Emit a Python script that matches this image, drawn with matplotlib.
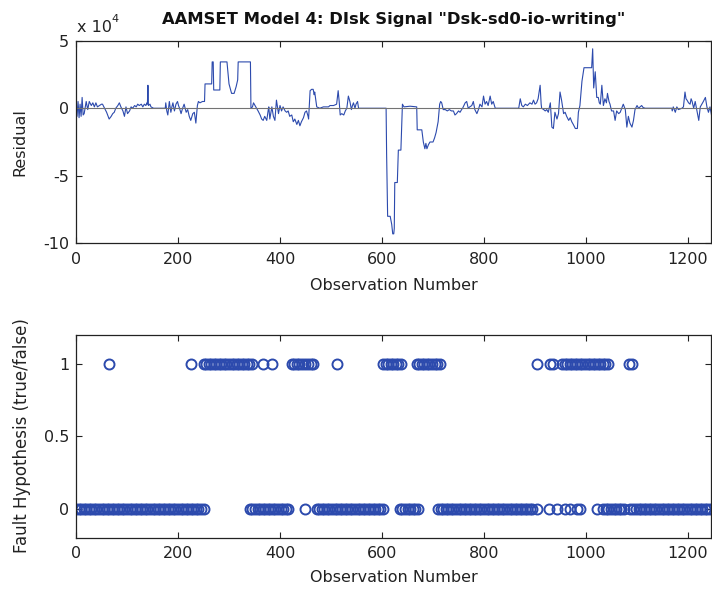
import numpy as np
import matplotlib
matplotlib.use("Agg")
import matplotlib.pyplot as plt
from matplotlib.ticker import FuncFormatter

plt.rcParams['font.family'] = ['DejaVu Sans']
plt.rcParams['axes.unicode_minus'] = False

# Residual (x 10^4), vertices
obs = [0, 2, 4, 6, 8, 10, 12, 14, 16, 20, 23, 26, 30, 33, 36, 39, 42, 46, 50, 52,
       56, 60, 62, 65, 69, 72, 75, 78, 82, 85, 88, 92, 95, 98, 101, 105, 108, 111, 115, 118,
       121, 124, 128, 131, 134, 137, 139, 140, 141, 142, 145, 147, 152, 175, 176, 178, 180, 183, 186, 188,
       190, 193, 196, 199, 201, 203, 206, 209, 212, 216, 219, 222, 225, 229, 232, 235, 238, 240, 243, 248,
       252, 253, 260, 262, 266, 267, 269, 270, 282, 283, 296, 300, 305, 310, 314, 317, 318, 342, 343, 346,
       348, 351, 354, 357, 361, 364, 367, 370, 374, 377, 378, 380, 384, 387, 390, 393, 397, 400, 403, 406,
       410, 413, 416, 419, 423, 426, 429, 433, 436, 439, 442, 446, 449, 452, 455, 456, 459, 462, 465, 467,
       468, 472, 478, 485, 495, 498, 505, 511, 514, 516, 518, 521, 525, 528, 531, 534, 537, 540, 542, 544,
       547, 549, 552, 554, 608, 609, 611, 616, 619, 621, 623, 624, 625, 630, 632, 637, 640, 643, 655, 668,
       669, 678, 681, 684, 686, 688, 691, 694, 700, 703, 706, 710, 713, 715, 717, 720, 724, 728, 732, 736,
       740, 743, 746, 750, 753, 756, 758, 763, 766, 769, 772, 776, 779, 782, 786, 789, 792, 796, 799, 802,
       805, 808, 812, 815, 818, 822, 868, 871, 874, 877, 881, 885, 890, 894, 897, 900, 903, 906, 910, 912,
       913, 917, 920, 923, 926, 930, 933, 936, 939, 943, 946, 949, 952, 954, 956, 959, 962, 966, 969, 972,
       975, 979, 983, 985, 988, 992, 996, 1011, 1013, 1015, 1018, 1021, 1024, 1026, 1028, 1031, 1034, 1037, 1040, 1042,
       1045, 1047, 1050, 1054, 1057, 1060, 1064, 1067, 1070, 1073, 1077, 1080, 1083, 1086, 1090, 1093, 1096, 1100, 1103, 1106,
       1109, 1112, 1116, 1168, 1169, 1171, 1175, 1178, 1181, 1188, 1191, 1194, 1196, 1198, 1201, 1204, 1206, 1208, 1211, 1214,
       1217, 1219, 1221, 1224, 1227, 1230, 1234, 1237, 1240, 1243, 1246]
resid = [0.0, -0.6, 0.5, -0.7, 0.3, -0.6, 0.8, -0.5, -0.4, 0.5, -0.1, 0.5, 0.2, 0.4, 0.1, 0.4, 0.1, 0.2, 0.3, 0.3,
         0.0, -0.3, -0.5, -0.8, -0.6, -0.4, -0.3, 0.0, 0.2, 0.4, 0.1, -0.2, -0.6, 0.1, -0.4, -0.2, 0.1, 0.0, 0.2, 0.1,
         0.3, 0.2, 0.3, 0.1, 0.3, 0.2, 0.4, 0.3, 1.7, 0.2, 0.3, 0.1, 0.0, 0.0, 0.4, -0.2, -0.5, 0.5, -0.3, 0.1,
         0.4, -0.2, 0.3, 0.5, 0.2, 0.0, -0.4, 0.0, 0.3, -0.3, -0.1, -0.6, -0.9, -0.4, -0.3, -1.1, 0.2, 0.5, 0.4, 0.5,
         0.5, 1.8, 1.8, 1.8, 1.8, 3.43, 3.43, 1.35, 1.35, 3.43, 3.43, 1.8, 1.1, 1.1, 1.6, 2.1, 3.43, 3.43, 0.0, 0.1,
         0.4, 0.2, 0.0, -0.2, -0.5, -0.8, -0.9, -0.6, -0.9, -0.1, 0.1, -0.8, 0.1, -0.6, -0.9, 0.6, -0.4, 0.2, -0.2, 0.1,
         -0.2, -0.3, -0.2, -0.6, -0.5, -1.0, -0.8, -1.2, -0.9, -1.3, -1.0, -0.7, -0.3, -0.2, -0.6, -0.8, 1.3, 1.4, 1.4, 1.0,
         1.2, 0.1, 0.0, 0.1, 0.1, 0.2, 0.2, 0.3, 1.3, 0.5, -0.5, -0.4, -0.5, -0.2, 0.0, 0.9, 0.5, -0.1, 0.2, 0.4,
         0.0, 0.3, 0.5, 0.0, 0.0, -3.4, -8.0, -8.0, -8.6, -9.3, -9.3, -8.9, -5.5, -5.5, -3.1, -3.1, 0.3, 0.1, 0.15, 0.1,
         -1.6, -1.6, -2.5, -3.0, -2.6, -3.0, -2.7, -2.5, -2.5, -2.2, -1.8, -1.0, 0.3, 0.5, 0.4, -0.1, -0.1, -0.2, -0.1, -0.2,
         -0.2, -0.5, -0.4, -0.2, -0.3, -0.1, 0.0, 0.4, 0.5, 0.0, 0.1, 0.2, 0.5, -0.1, -0.4, -0.1, 0.3, 0.1, 0.9, 0.3,
         0.5, 0.2, 0.9, 0.3, 0.5, 0.0, 0.0, 0.7, 0.2, 0.1, 0.3, 0.2, 0.4, 0.3, 0.6, 0.3, 0.4, 0.7, 1.7, 0.3,
         0.0, -0.1, -0.2, -0.1, -0.3, 0.4, -1.4, -1.5, -0.3, -0.8, -0.4, 1.2, 0.6, 0.1, -0.4, -0.3, -0.6, -0.9, -0.7, -1.0,
         -1.2, -1.5, -1.5, -0.3, 0.2, 2.0, 3.0, 3.0, 4.4, 1.5, 2.7, 0.8, 0.8, 0.4, 0.3, 1.7, 0.2, 0.7, 0.4, 1.1,
         0.5, 0.3, -0.2, -0.2, -0.9, -0.2, -0.4, -0.3, 0.0, 0.3, -0.1, -1.4, -0.6, -1.1, -1.4, -0.9, -0.1, 0.2, 0.0, 0.1,
         0.2, 0.05, 0.0, 0.0, -0.2, 0.1, -0.3, 0.1, -0.1, 0.0, 0.1, 1.2, 0.7, 0.6, 0.4, 0.3, 0.7, 0.5, 0.0, 0.5,
         -0.1, -0.5, -0.9, 0.1, 0.3, 0.5, 0.8, 0.1, -0.3, 0.1, -0.5]
resid = np.array(resid) * 1e4

# Fault hypothesis: observation ranges flagged true / false (sampled every 5 obs)
fault_true = [(65, 65), (225, 225), (250, 345), (366, 366), (385, 385), (423, 445), (449, 449),
              (455, 468), (512, 512), (602, 638), (668, 714), (904, 904), (930, 935),
              (953, 1047), (1085, 1090)]
fault_false = [(0, 250), (341, 419), (449, 449), (472, 602), (635, 674), (710, 897), (904, 904),
               (927, 927), (943, 943), (959, 959), (969, 969), (982, 982), (989, 989),
               (1021, 1021), (1034, 1074), (1087, 1087), (1093, 1245)]

blue = '#2c4aad'
W, H = 712, 591
FS = 11.5


def expand(ranges):
    return np.concatenate([np.arange(a, b + 1, 5) for a, b in ranges])


def style(ax):
    ax.set_xlim(0, 1245)
    ax.set_xticks([0, 200, 400, 600, 800, 1000, 1200])
    ax.tick_params(direction='in', top=True, right=True, length=4, width=0.8,
                   labelsize=FS, colors='#222222')
    ax.tick_params(axis='x', pad=6)
    ax.tick_params(axis='y', pad=5)
    for s in ax.spines.values():
        s.set_linewidth(0.9)
        s.set_color('#222222')
    ax.yaxis.set_major_formatter(FuncFormatter(lambda v, p: '%g' % v))


fig = plt.figure(figsize=(W / 100, H / 100), dpi=100)

# top panel: residual
ax1 = fig.add_axes([76 / W, 1 - 243.3 / H, 635 / W, 202.6 / H])
ax1.plot(obs, resid, color=blue, lw=0.8)
ax1.axhline(0, color='0.45', lw=0.8)
style(ax1)
ax1.set_ylim(-10e4, 5e4)
ax1.set_yticks([-10e4, -5e4, 0, 5e4])
ax1.yaxis.set_major_formatter(FuncFormatter(lambda v, p: '%g' % (v / 1e4)))

# bottom panel: fault hypothesis
ax2 = fig.add_axes([76 / W, 1 - 537.5 / H, 635 / W, 202.5 / H])
x1 = expand(fault_true)
x0 = expand(fault_false)
ax2.plot(x0, np.zeros(len(x0)), 'o', mfc='none', mec=blue, ms=7.2, mew=1.4)
ax2.plot(x1, np.ones(len(x1)), 'o', mfc='none', mec=blue, ms=7.2, mew=1.4)
style(ax2)
ax2.set_ylim(-0.2, 1.2)
ax2.set_yticks([0, 0.5, 1])

# texts
fig.text(394 / W, 1 - 24 / H, 'AAMSET Model 4: DIsk Signal "Dsk-sd0-io-writing"',
         ha='center', va='baseline', fontsize=11.8, fontweight='bold', color='#111111')
fig.text(77 / W, 1 - 32 / H, 'x 10', ha='left', va='baseline', fontsize=FS, color='#222222')
fig.text(111 / W, 1 - 22 / H, '4', ha='left', va='baseline', fontsize=8, color='#222222')
fig.text(20 / W, 1 - 142 / H, 'Residual', rotation=90, ha='center', va='center',
         fontsize=FS, color='#222222')
fig.text(22 / W, 1 - 436 / H, 'Fault Hypothesis (true/false)', rotation=90, ha='center',
         va='center', fontsize=12, color='#222222')
fig.text(394 / W, 1 - 285 / H, 'Observation Number', ha='center', va='center',
         fontsize=FS, color='#222222')
fig.text(394 / W, 1 - 578 / H, 'Observation Number', ha='center', va='center',
         fontsize=FS, color='#222222')

fig.savefig('out.png', dpi=100)
